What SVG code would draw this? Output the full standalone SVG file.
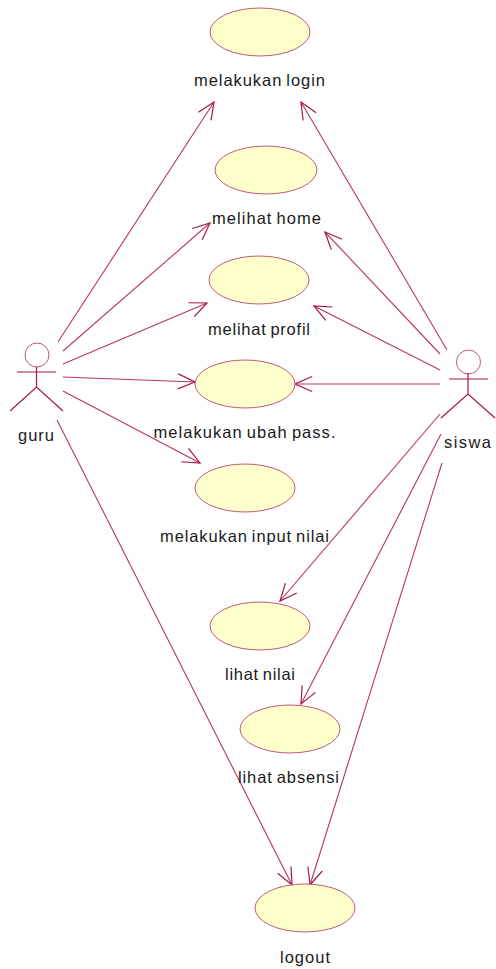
<svg xmlns="http://www.w3.org/2000/svg" width="496" height="969" viewBox="0 0 496 969">
<style>
.uc{fill:#ffffcb;stroke:#bf5a7e;stroke-width:1}
.a{fill:none;stroke:#a8144c;stroke-width:1.2}
.c{fill:none;stroke:#b8346a;stroke-width:1.1;marker-end:url(#h)}
text{font-family:"Liberation Sans",Arial,sans-serif;font-size:16.5px;fill:#1a1a1a;text-anchor:middle;word-spacing:-1.500px}
</style>
<defs>
<marker id="h" markerUnits="userSpaceOnUse" markerWidth="24" markerHeight="24" refX="20" refY="12" orient="auto" viewBox="0 0 24 24">
<path d="M3 4.500L20 12L3 19.500" fill="none" stroke="#a8144c" stroke-width="1.2"/>
</marker>
</defs>
<rect width="496" height="969" fill="#fff"/>
<g id="connectors">
<path class="c" d="M58 342L214 102"/>
<path class="c" d="M63 351L210 223"/>
<path class="c" d="M63 364L207 303"/>
<path class="c" d="M63 377L195 382"/>
<path class="c" d="M63 391L200 463"/>
<path class="c" d="M57 420L292 885"/>
<path class="c" d="M447 350L301 102"/>
<path class="c" d="M440 354L325 232"/>
<path class="c" d="M440 370L314 306"/>
<path class="c" d="M440 384L295 384"/>
<path class="c" d="M440 414L280 601"/>
<path class="c" d="M441 434L301 704"/>
<path class="c" d="M442 463L310 885"/>
</g>
<g id="uc-login"><ellipse class="uc" cx="260" cy="32" rx="50" ry="24"/><text x="259.500" y="86" textLength="131">melakukan login</text></g>
<g id="uc-home"><ellipse class="uc" cx="266" cy="170" rx="51" ry="24"/><text x="266.500" y="224" textLength="109">melihat home</text></g>
<g id="uc-profil"><ellipse class="uc" cx="259" cy="280" rx="50" ry="24"/><text x="259" y="335" textLength="102">melihat profil</text></g>
<g id="uc-ubah"><ellipse class="uc" cx="245" cy="384" rx="50" ry="24"/><text x="244.500" y="438" textLength="182">melakukan ubah pass.</text></g>
<g id="uc-input"><ellipse class="uc" cx="245" cy="488" rx="50" ry="24"/><text x="244.500" y="542" textLength="169">melakukan input nilai</text></g>
<g id="uc-nilai"><ellipse class="uc" cx="260" cy="626" rx="50" ry="24"/><text x="260" y="680" textLength="70">lihat nilai</text></g>
<g id="uc-absensi"><ellipse class="uc" cx="290" cy="729" rx="50" ry="24"/><text x="288.500" y="783" textLength="101">lihat absensi</text></g>
<g id="uc-logout"><ellipse class="uc" cx="305" cy="908" rx="50" ry="24"/><text x="305" y="963" textLength="50">logout</text></g>
<g id="actor-guru">
<circle cx="37" cy="355" r="12" fill="#fff" stroke="#bf5a7e"/>
<path class="a" d="M36.500 367V387M17 372H56M10 411L36.500 387L63 411"/>
<text x="36" y="441" textLength="36">guru</text>
</g>
<g id="actor-siswa">
<circle cx="468.500" cy="362" r="12" fill="#fff" stroke="#bf5a7e"/>
<path class="a" d="M468 373V394M449 379H488M441 418L468 394L495 418"/>
<text x="467.500" y="448" textLength="47">siswa</text>
</g>
</svg>
